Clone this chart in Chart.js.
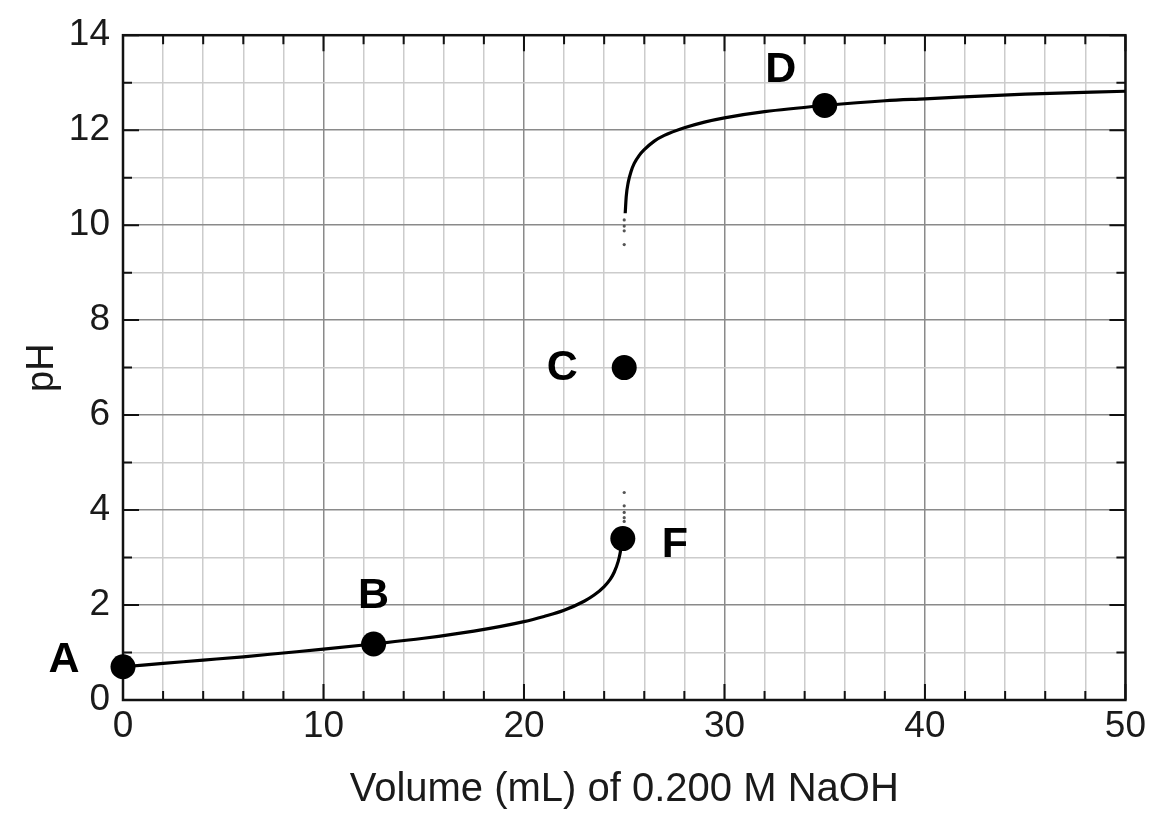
<!DOCTYPE html>
<html>
<head>
<meta charset="utf-8">
<script src="https://cdn.jsdelivr.net/npm/chart.js@4.4.1/dist/chart.umd.min.js"></script>
<style>
  html, body { margin: 0; padding: 0; background: #ffffff; }
  #wrap { width: 1151px; height: 814px; }
</style>
</head>
<body>
<div id="wrap"><canvas id="c" width="1151" height="814"></canvas></div>
<script>
// ---- data ----
const acidVolume = [0, 2, 4, 6, 8, 10, 12.5, 15, 17.5, 20, 21, 22, 23, 23.5, 24, 24.3, 24.5, 24.7, 24.8, 24.9];
const acidPH     = [0.70, 0.77, 0.84, 0.91, 0.99, 1.07, 1.18, 1.30, 1.45, 1.65, 1.76, 1.89, 2.08, 2.21, 2.39, 2.54, 2.69, 2.92, 3.10, 3.40];

const baseVolume = [25.05, 25.1, 25.2, 25.35, 25.5, 25.75, 26, 26.5, 27, 28, 29, 30, 32, 35, 38, 40, 45, 50];
const basePH     = [10.25, 10.60, 10.90, 11.14, 11.30, 11.47, 11.59, 11.77, 11.89, 12.05, 12.17, 12.26, 12.39, 12.52, 12.62, 12.66, 12.76, 12.82];

const dotVolume = [25.0, 25.0, 25.0, 25.0, 25.0, 25.0, 25.0, 25.0, 25.0];
const dotPH     = [4.37, 4.09, 3.95, 3.84, 3.76, 10.11, 9.98, 9.88, 9.59];

const pointNames  = ['A', 'B', 'C', 'D', 'F'];
const pointVolume = [0, 12.5, 25, 35, 24.93];
const pointPH     = [0.70, 1.18, 7.0, 12.52, 3.40];

const xTickLabels = [0, 10, 20, 30, 40, 50];
const yTickLabels = [0, 2, 4, 6, 8, 10, 12, 14];

const xTitle = 'Volume (mL) of 0.200 M NaOH';
const yTitle = 'pH';

// ---- styling (not data) ----
const labelOffsets = { A: [-59, -7], B: [0, -48], C: [-62, 1], D: [-44, -35], F: [52, 7] };
const FONT = '"Liberation Sans", Arial, Helvetica, sans-serif';

const toXY = (xs, ys) => xs.map((x, i) => ({ x: x, y: ys[i] }));

const framePlugin = {
  id: 'frameTicks',
  beforeDatasetsDraw(chart) {
    const { ctx, chartArea: a, scales: { x, y } } = chart;
    ctx.save();
    ctx.strokeStyle = '#111';
    ctx.lineWidth = 2;
    ctx.lineCap = 'butt';
    x.ticks.forEach(t => {
      const px = x.getPixelForValue(t.value);
      const major = xTickLabels.includes(t.value);
      const len = major ? 16 : 9;
      ctx.beginPath();
      ctx.moveTo(px, a.bottom); ctx.lineTo(px, a.bottom - len);
      ctx.moveTo(px, a.top); ctx.lineTo(px, a.top + len);
      ctx.stroke();
    });
    y.ticks.forEach(t => {
      const py = y.getPixelForValue(t.value);
      const major = yTickLabels.includes(t.value);
      const len = major ? 16 : 9;
      ctx.beginPath();
      ctx.moveTo(a.left, py); ctx.lineTo(a.left + len, py);
      ctx.moveTo(a.right, py); ctx.lineTo(a.right - len, py);
      ctx.stroke();
    });
    ctx.lineWidth = 2.5;
    ctx.strokeRect(a.left, a.top, a.right - a.left, a.bottom - a.top);
    ctx.restore();
  },
  afterDraw(chart) {
    const { ctx, scales: { x, y } } = chart;
    ctx.save();
    ctx.fillStyle = '#000';
    ctx.font = 'bold 43px ' + FONT;
    ctx.textAlign = 'center';
    ctx.textBaseline = 'middle';
    pointNames.forEach((n, i) => {
      const off = labelOffsets[n];
      const px = x.getPixelForValue(pointVolume[i]) + off[0];
      const py = y.getPixelForValue(pointPH[i]) + off[1];
      ctx.fillText(n, px, py);
    });
    ctx.restore();
  }
};

new Chart(document.getElementById('c'), {
  type: 'scatter',
  data: {
    datasets: [
      {
        label: 'acid',
        data: toXY(acidVolume, acidPH),
        showLine: true,
        borderColor: '#000',
        borderWidth: 3.2,
        pointRadius: 0,
        cubicInterpolationMode: 'monotone',
        fill: false
      },
      {
        label: 'base',
        data: toXY(baseVolume, basePH),
        showLine: true,
        borderColor: '#000',
        borderWidth: 3.2,
        pointRadius: 0,
        cubicInterpolationMode: 'monotone',
        fill: false
      },
      {
        label: 'dots',
        data: toXY(dotVolume, dotPH),
        showLine: false,
        pointRadius: 1.6,
        pointBackgroundColor: '#555',
        pointBorderWidth: 0
      },
      {
        label: 'points',
        data: toXY(pointVolume, pointPH),
        showLine: false,
        clip: false,
        pointRadius: 12.5,
        pointBackgroundColor: '#000',
        pointBorderColor: '#000',
        pointBorderWidth: 0
      }
    ]
  },
  options: {
    responsive: false,
    animation: false,
    devicePixelRatio: 1,
    layout: { padding: { top: 33, right: 25, left: 0, bottom: 0 } },
    plugins: {
      legend: { display: false },
      tooltip: { enabled: false }
    },
    scales: {
      x: {
        type: 'linear',
        min: 0, max: 50,
        afterFit(s) { s.height = 114; },
        border: { display: false },
        grid: {
          drawTicks: false,
          lineWidth: 1.5,
          color: c => (xTickLabels.includes(c.tick.value) ? '#8a8a8a' : '#cccccc')
        },
        ticks: {
          stepSize: 2,
          autoSkip: false,
          maxRotation: 0,
          padding: 5,
          color: '#1a1a1a',
          font: { family: FONT, size: 37 },
          callback: v => (xTickLabels.includes(v) ? String(v) : '')
        },
        title: {
          display: true,
          text: xTitle,
          color: '#1a1a1a',
          font: { family: FONT, size: 40 },
          padding: { top: 0, bottom: 0 }
        }
      },
      y: {
        type: 'linear',
        min: 0, max: 14,
        afterFit(s) { s.width = 123; },
        border: { display: false },
        grid: {
          drawTicks: false,
          lineWidth: 1.5,
          color: c => (yTickLabels.includes(c.tick.value) ? '#8a8a8a' : '#cccccc')
        },
        ticks: {
          stepSize: 1,
          autoSkip: false,
          padding: 13,
          color: '#1a1a1a',
          font: { family: FONT, size: 37 },
          callback: v => (yTickLabels.includes(v) ? String(v) : '')
        },
        title: {
          display: true,
          text: yTitle,
          color: '#1a1a1a',
          font: { family: FONT, size: 38 },
          padding: { top: 20, bottom: 0 }
        }
      }
    }
  },
  plugins: [framePlugin]
});
</script>
</body>
</html>
